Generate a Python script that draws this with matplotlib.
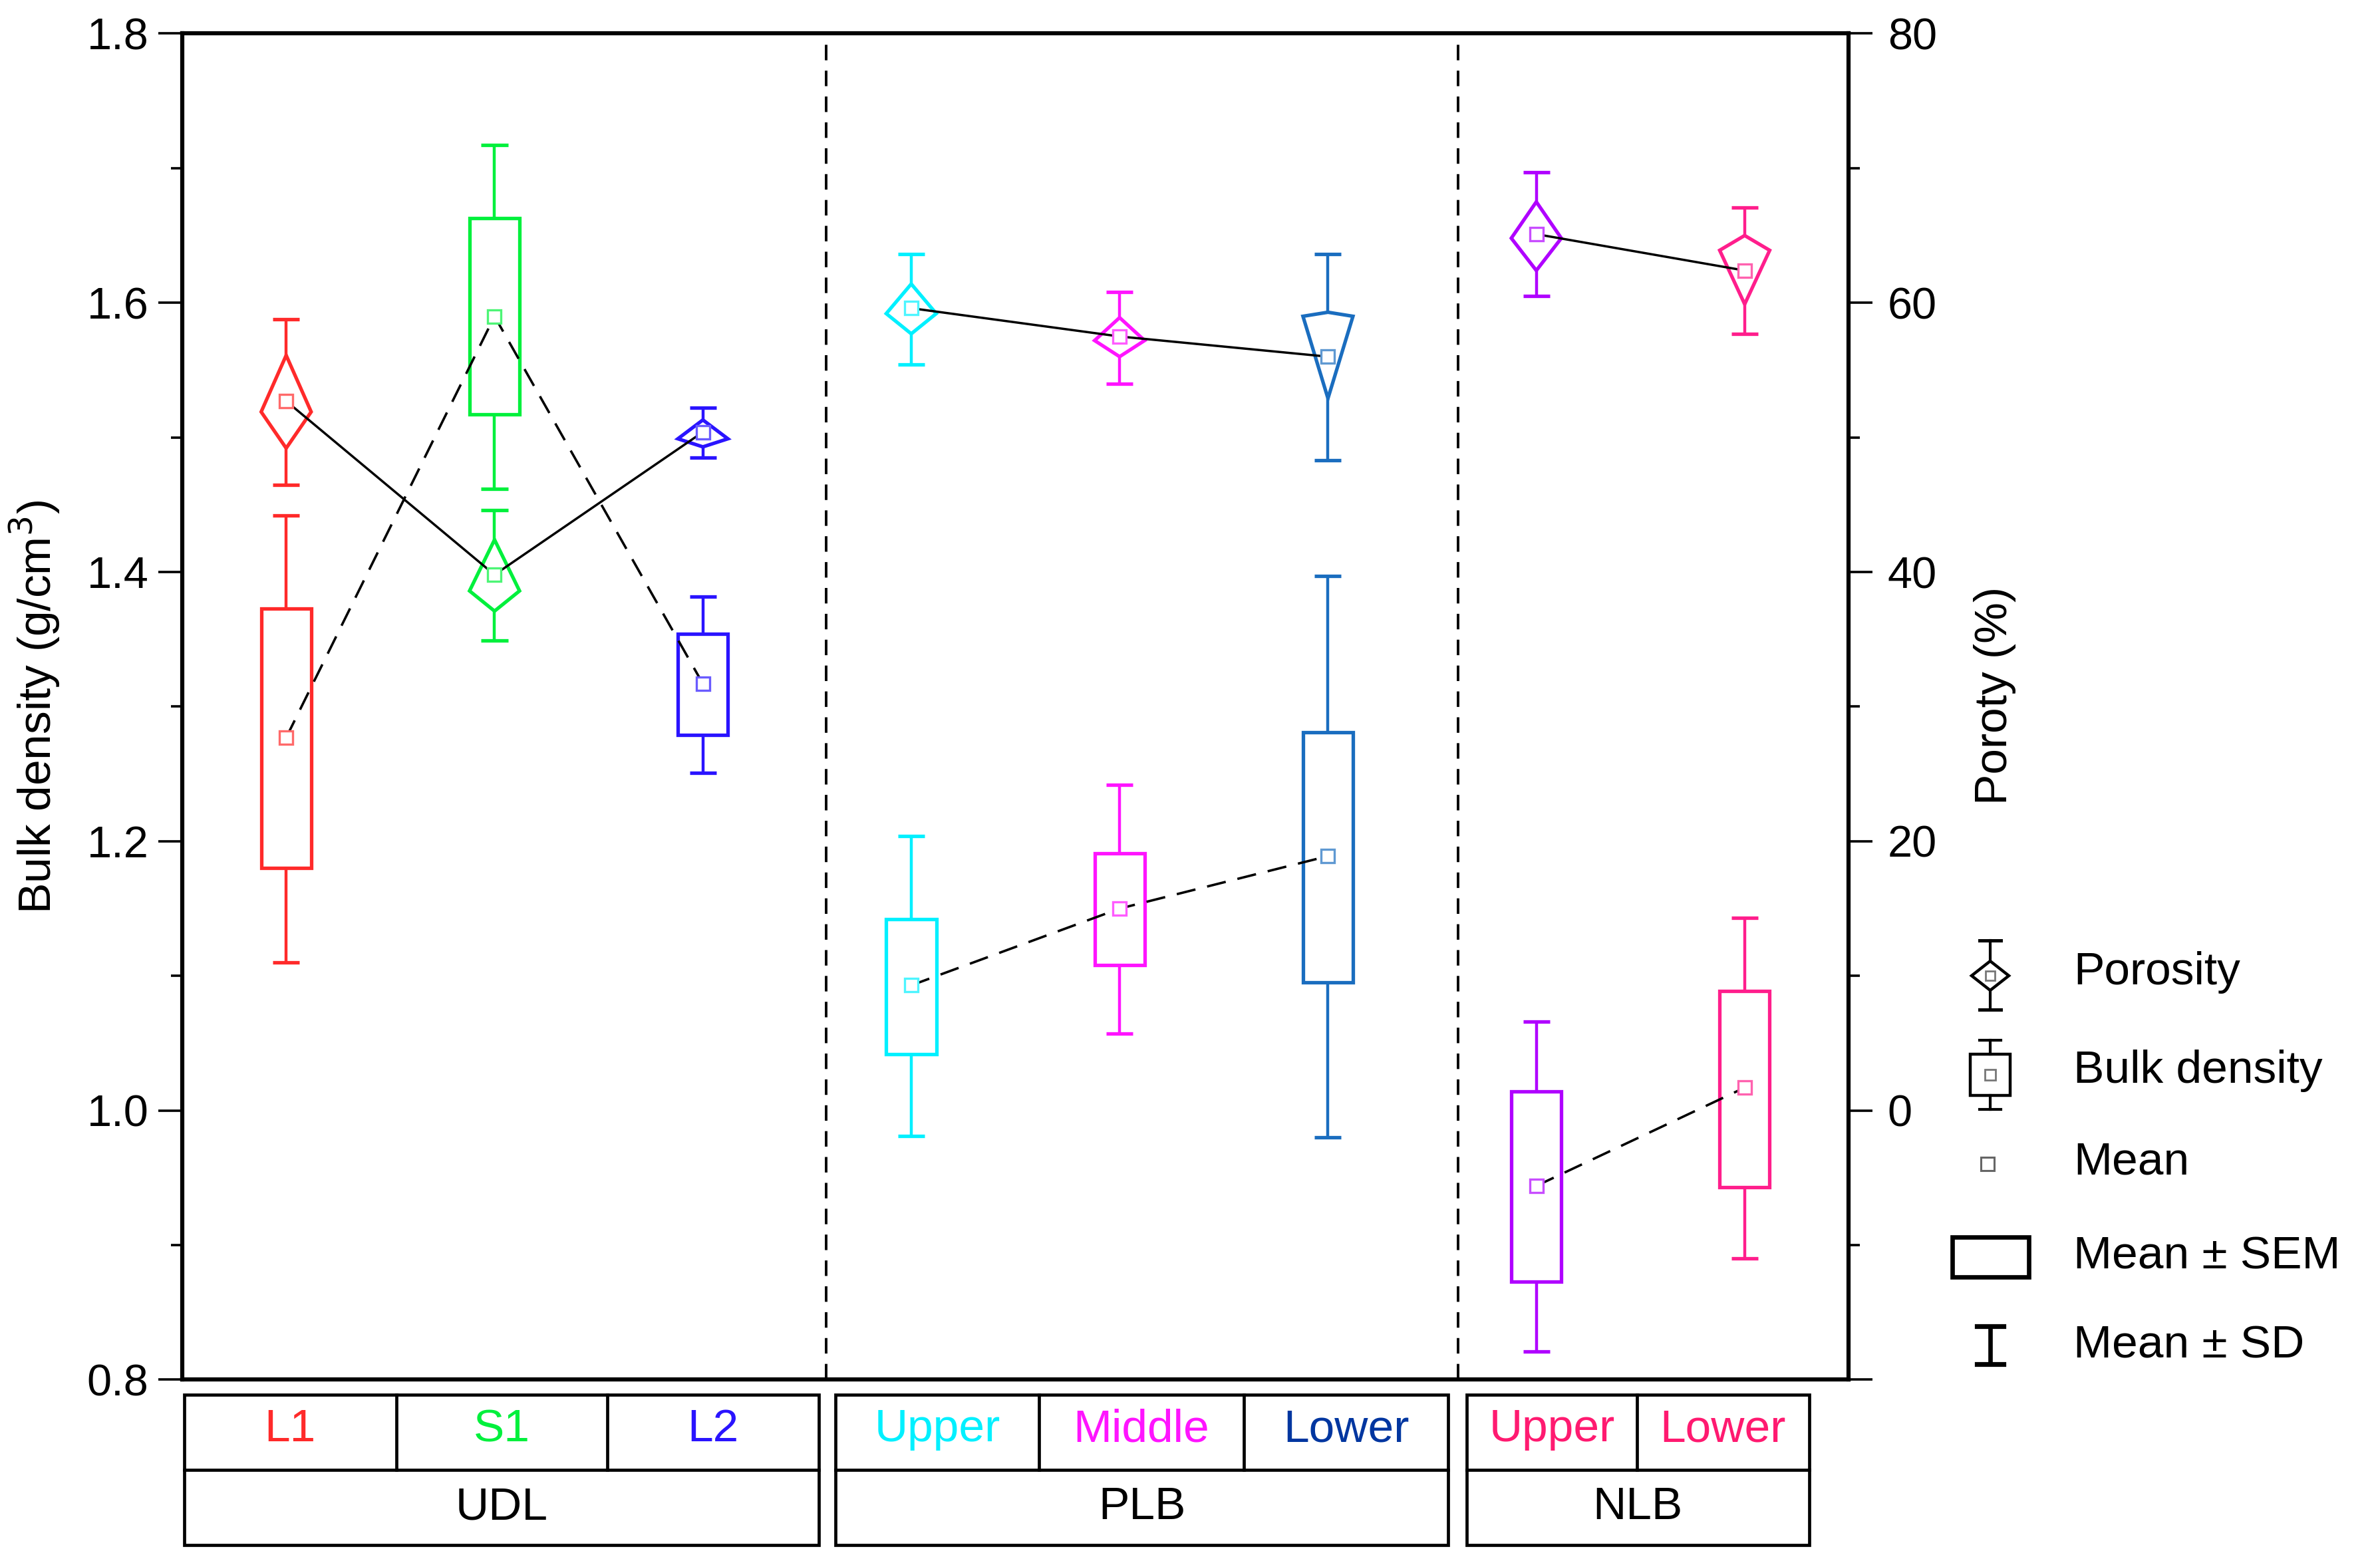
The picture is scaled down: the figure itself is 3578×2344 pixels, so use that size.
import numpy as np
import matplotlib
matplotlib.use("Agg")
import matplotlib.pyplot as plt
from matplotlib.patches import Rectangle, Polygon
from matplotlib.ticker import MultipleLocator
import matplotlib.colors as mcolors
import matplotlib.transforms as mtransforms

plt.rcParams['font.family'] = ['Liberation Sans', 'DejaVu Sans']

# ---- data ----
groups = ['UDL', 'PLB', 'NLB']
layers = ['L1', 'S1', 'L2', 'Upper', 'Middle', 'Lower', 'Upper', 'Lower']
group_idx = [0, 0, 0, 1, 1, 1, 2, 2]
colors = ['#ff2a2a', '#00f03c', '#2a14ff', '#00f0ff', '#ff14ff', '#1a6dbf', '#b000ff', '#ff1e8c']
label_colors = ['#ff2a2a', '#00f03c', '#2a14ff', '#00f0ff', '#ff14ff', '#0036a0', '#ff1a70', '#ff1a70']

# bulk density (g/cm3)
bd_mean = [1.277, 1.590, 1.317, 1.093, 1.150, 1.189, 0.944, 1.017]
bd_sem_lo = [1.180, 1.517, 1.279, 1.042, 1.108, 1.095, 0.873, 0.943]
bd_sem_hi = [1.373, 1.663, 1.354, 1.142, 1.191, 1.281, 1.014, 1.089]
bd_sd_lo = [1.110, 1.462, 1.251, 0.981, 1.057, 0.980, 0.821, 0.890]
bd_sd_hi = [1.442, 1.717, 1.382, 1.204, 1.242, 1.397, 1.066, 1.143]

# porosity (%)
por_mean = [52.7, 39.8, 50.4, 59.6, 57.5, 56.0, 65.1, 62.4]
por_sem_lo = [49.2, 37.1, 49.3, 57.7, 56.0, 52.9, 62.4, 59.9]
por_sem_hi = [56.1, 42.4, 51.3, 61.4, 58.9, 59.3, 67.5, 65.0]
por_med = [51.9, 38.6, 49.9, 59.2, 57.2, 59.0, 64.8, 63.9]
por_sd_lo = [46.5, 34.9, 48.5, 55.4, 54.0, 48.3, 60.5, 57.7]
por_sd_hi = [58.8, 44.6, 52.2, 63.6, 60.8, 63.6, 69.7, 67.1]

# table layout (x in data units)
group_edges = [(0.51, 3.555), (3.636, 6.578), (6.665, 8.309)]
cell_edges = [[0.51, 1.529, 2.541, 3.555], [3.636, 4.613, 5.596, 6.578], [6.665, 7.483, 8.309]]
sep_x = [3.59, 6.625]


def lighter(c, f=0.3):
    r, g, b = mcolors.to_rgb(c)
    return (r + (1 - r) * f, g + (1 - g) * f, b + (1 - b) * f)


W, H = 3578, 2344
fig = plt.figure(figsize=(W / 200, H / 200), dpi=200)
ax = fig.add_axes([0.07647, 0.11498, 0.70036, 0.86348])
ax2 = ax.twinx()

x = np.arange(1, len(layers) + 1)
bw = 0.24
cap = 0.064

for i in range(len(layers)):
    c = colors[i]
    mc = lighter(c)
    # bulk density box
    ax.add_patch(Rectangle((x[i] - bw / 2, bd_sem_lo[i]), bw, bd_sem_hi[i] - bd_sem_lo[i],
                           fill=False, ec=c, lw=1.9, zorder=3))
    ax.vlines(x[i], bd_sem_hi[i], bd_sd_hi[i], color=c, lw=1.6, zorder=3)
    ax.vlines(x[i], bd_sd_lo[i], bd_sem_lo[i], color=c, lw=1.6, zorder=3)
    ax.hlines([bd_sd_lo[i], bd_sd_hi[i]], x[i] - cap, x[i] + cap, color=c, lw=1.9, zorder=3)
    ax.plot(x[i], bd_mean[i], 's', ms=7.5, mfc='white', mec=mc, mew=1.2, zorder=6)

    # porosity diamond
    dia = [(x[i], por_sem_hi[i]), (x[i] + bw / 2, por_med[i]),
           (x[i], por_sem_lo[i]), (x[i] - bw / 2, por_med[i])]
    ax2.add_patch(Polygon(dia, closed=True, fill=False, ec=c, lw=1.9, zorder=3, joinstyle='miter'))
    ax2.vlines(x[i], por_sem_hi[i], por_sd_hi[i], color=c, lw=1.6, zorder=3)
    ax2.vlines(x[i], por_sd_lo[i], por_sem_lo[i], color=c, lw=1.6, zorder=3)
    ax2.hlines([por_sd_lo[i], por_sd_hi[i]], x[i] - cap, x[i] + cap, color=c, lw=1.9, zorder=3)
    ax2.plot(x[i], por_mean[i], 's', ms=7.5, mfc='white', mec=mc, mew=1.2, zorder=6)

# connecting lines inside each group
for g in range(len(groups)):
    idx = [i for i in range(len(layers)) if group_idx[i] == g]
    ax.plot(x[idx], np.array(bd_mean)[idx], color='black', lw=1.3, ls=(0, (8, 5)), zorder=4)
    ax2.plot(x[idx], np.array(por_mean)[idx], color='black', lw=1.25, zorder=4)

for s in sep_x:
    ax.axvline(s, color='black', lw=1.4, ls=(0, (6, 4)), zorder=1)

ax.set_xlim(0.5, 8.5)
ax.set_ylim(0.8, 1.8)
ax2.set_ylim(-20, 80)
ax.set_xticks([])
ax.set_yticks(np.arange(0.8, 1.81, 0.2))
ax.set_yticklabels(['%.1f' % v for v in np.arange(0.8, 1.81, 0.2)])
ax.yaxis.set_minor_locator(MultipleLocator(0.1))
ax2.set_yticks([-20, 0, 20, 40, 60, 80])
ax2.set_yticklabels(['', '0', '20', '40', '60', '80'])
ax2.yaxis.set_minor_locator(MultipleLocator(10))
for a in (ax, ax2):
    a.tick_params(axis='y', which='major', direction='out', length=13, width=1.3, labelsize=24, pad=5)
    a.tick_params(axis='y', which='minor', direction='out', length=6, width=1.3)
    for sp in a.spines.values():
        sp.set_linewidth(2.2)
ax2.tick_params(axis='y', which='major', pad=8)

ax.set_ylabel('Bulk density (g/cm$^3$)', fontsize=25)
ax.yaxis.set_label_coords(-0.072, 0.5)
ax2.set_ylabel('Poroty (%)', fontsize=25, rotation=90)
ax2.yaxis.set_label_coords(1.075, 0.508)

# category table below the axes
trans = mtransforms.blended_transform_factory(ax.transData, ax.transAxes)
y_top, y_mid, y_bot = -0.0113, -0.0668, -0.1229
k = 0
for g in range(len(groups)):
    x0, x1 = group_edges[g]
    ax.add_patch(Rectangle((x0, y_bot), x1 - x0, y_top - y_bot, fill=False, ec='black',
                           lw=1.7, transform=trans, clip_on=False))
    ax.plot([x0, x1], [y_mid, y_mid], color='black', lw=1.7, transform=trans, clip_on=False)
    ax.text((x0 + x1) / 2, (y_mid + y_bot) / 2, groups[g], fontsize=25, ha='center', va='center',
            transform=trans, clip_on=False)
    edges = cell_edges[g]
    for j in range(len(edges) - 1):
        if j > 0:
            ax.plot([edges[j], edges[j]], [y_top, y_mid], color='black', lw=1.7,
                    transform=trans, clip_on=False)
        ax.text((edges[j] + edges[j + 1]) / 2, (y_top + y_mid) / 2 + 0.002, layers[k],
                color=label_colors[k], fontsize=25, ha='center', va='center',
                transform=trans, clip_on=False)
        k += 1

# legend drawn in pixel coordinates
lg = fig.add_axes([0, 0, 1, 1])
lg.set_xlim(0, W)
lg.set_ylim(H, 0)
lg.axis('off')
lg.patch.set_alpha(0)
lx = 2992
# porosity symbol
lg.plot([lx, lx], [1414, 1445], color='black', lw=1.5)
lg.plot([lx, lx], [1489, 1518], color='black', lw=1.5)
lg.plot([lx - 16, lx + 16], [1414, 1414], color='black', lw=1.8)
lg.plot([lx - 16, lx + 16], [1518, 1518], color='black', lw=1.8)
lg.add_patch(Polygon([(lx, 1445), (lx + 28, 1467), (lx, 1489), (lx - 28, 1467)], closed=True,
                     fill=False, ec='black', lw=1.6))
lg.plot(lx, 1467, 's', ms=5, mfc='white', mec='#777777', mew=1.0)
# bulk density symbol
lg.plot([lx, lx], [1564, 1585], color='black', lw=1.5)
lg.plot([lx, lx], [1647, 1668], color='black', lw=1.5)
lg.plot([lx - 16, lx + 16], [1564, 1564], color='black', lw=1.5)
lg.plot([lx - 16, lx + 16], [1668, 1668], color='black', lw=1.5)
lg.add_patch(Rectangle((lx - 30, 1585), 60, 62, fill=False, ec='black', lw=1.6))
lg.plot(lx, 1616, 's', ms=5.5, mfc='white', mec='#777777', mew=1.0)
# mean
lg.plot(lx - 4, 1750, 's', ms=7.5, mfc='white', mec='#666666', mew=1.1)
# mean +- SEM
lg.add_patch(Rectangle((2935, 1860), 115, 60, fill=False, ec='black', lw=2.4))
# mean +- SD
lg.plot([lx, lx], [1994, 2051], color='black', lw=2.4)
lg.plot([lx - 20, lx + 20], [1994, 1994], color='black', lw=2.6)
lg.plot([lx - 20, lx + 20], [2051, 2051], color='black', lw=2.6)

leg_text = ['Porosity', 'Bulk density', 'Mean', 'Mean \u00b1 SEM', 'Mean \u00b1 SD']
leg_y = [1462, 1610, 1748, 1890, 2024]
for t, yy in zip(leg_text, leg_y):
    lg.text(3117, yy, t, fontsize=25, ha='left', va='center')

fig.savefig('out.png', dpi=200)
